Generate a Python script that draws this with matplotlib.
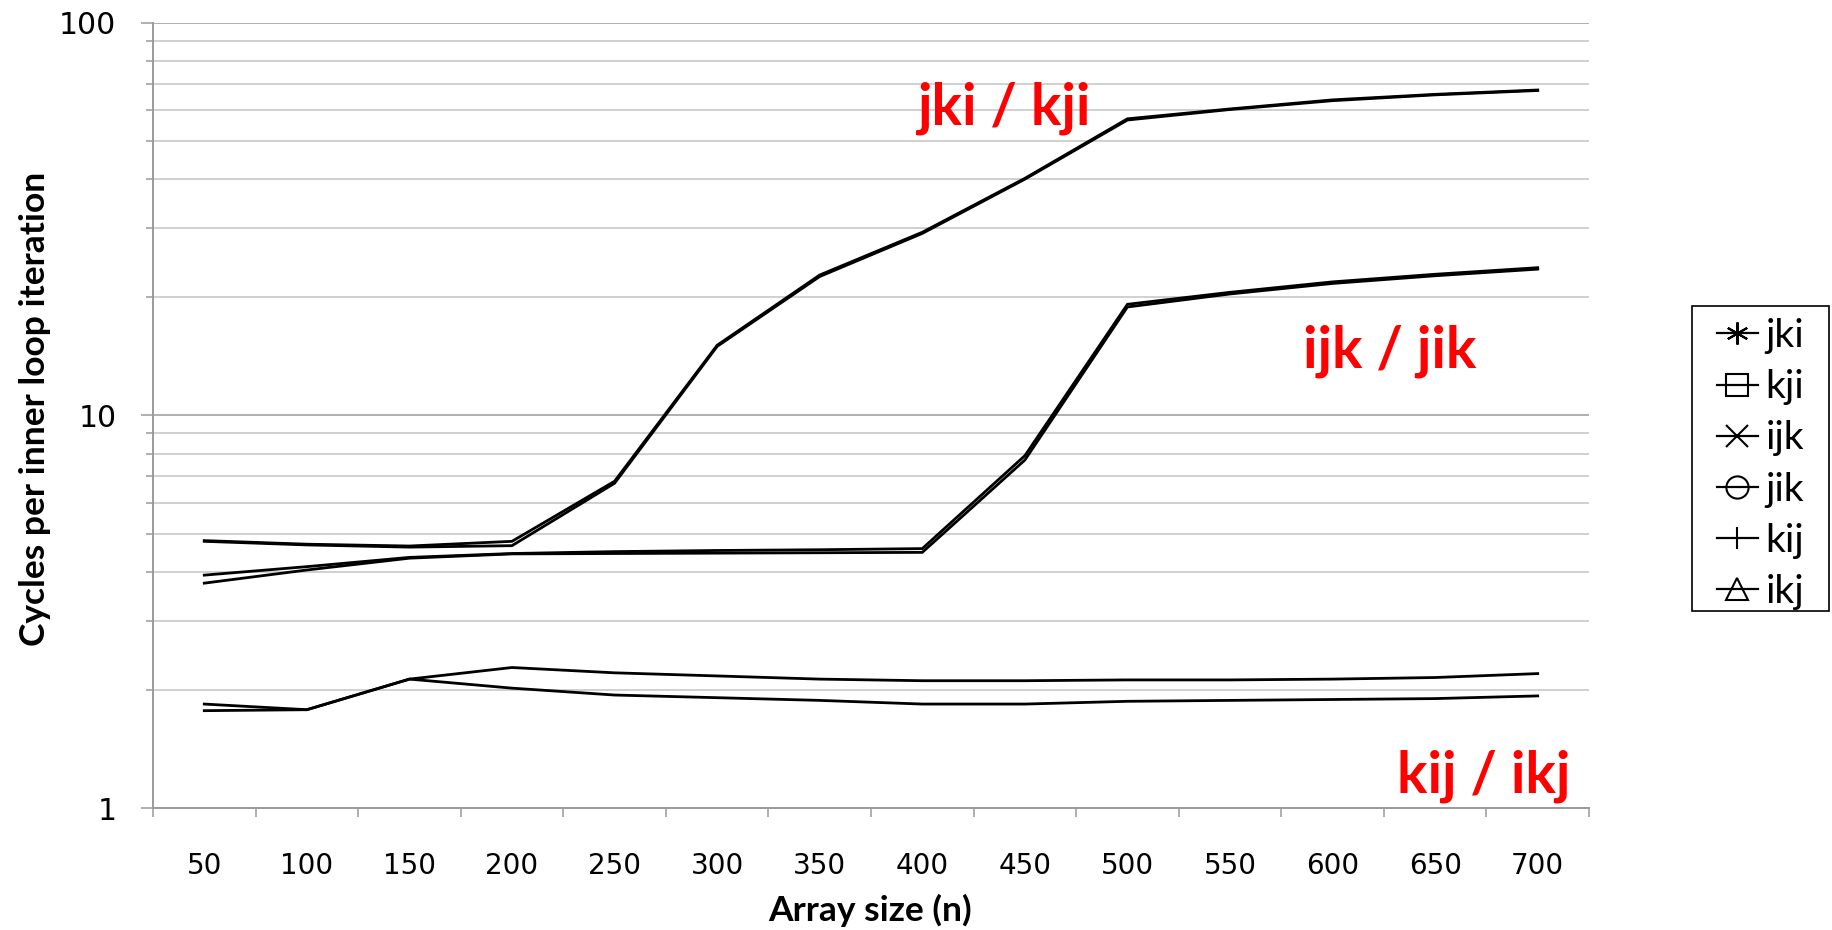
import matplotlib
matplotlib.use("Agg")
import matplotlib.pyplot as plt
from matplotlib.lines import Line2D
from matplotlib.patches import Rectangle
from matplotlib.ticker import LogLocator, NullFormatter

# Data
SIZES = [50, 100, 150, 200, 250, 300, 350, 400, 450, 500, 550, 600, 650, 700]
JKI = [4.80, 4.70, 4.65, 4.78, 6.80, 15.1, 22.8, 29.3, 40.2, 57.0, 60.4, 63.7, 65.8, 67.5]
KJI = [4.78, 4.68, 4.62, 4.66, 6.72, 15.0, 22.6, 29.1, 40.0, 56.6, 60.2, 63.4, 65.6, 67.3]
IJK = [3.92, 4.12, 4.35, 4.45, 4.50, 4.53, 4.55, 4.58, 7.90, 19.2, 20.6, 21.9, 22.9, 23.8]
JIK = [3.74, 4.04, 4.33, 4.44, 4.45, 4.46, 4.47, 4.48, 7.70, 18.9, 20.4, 21.7, 22.7, 23.6]
KIJ = [1.77, 1.78, 2.13, 2.28, 2.21, 2.17, 2.13, 2.11, 2.11, 2.12, 2.12, 2.13, 2.15, 2.20]
IKJ = [1.84, 1.78, 2.13, 2.02, 1.94, 1.91, 1.88, 1.84, 1.84, 1.87, 1.88, 1.89, 1.90, 1.93]

NAMES = ["jki", "kji", "ijk", "jik", "kij", "ikj"]
MARKERS = [(6, 2, 0), "s", "x", "o", "|", "^"]

# Style
W, H = 1832, 930
GRID_MAJOR = "#9a9a9a"
GRID_MINOR = "#c4c4c4"
TICK_FONT = "DejaVu Sans"
TEXT_FONT = "Lato"
LINEWIDTH = 2.0

fig = plt.figure(figsize=(W / 100, H / 100), dpi=100)
ax = fig.add_axes([153 / W, 1 - 808 / H, 1436 / W, 785 / H])

x = list(range(len(SIZES)))
for vals in [JKI, KJI, IJK, JIK, KIJ, IKJ]:
    ax.plot(x, vals, color="black", lw=LINEWIDTH, solid_joinstyle="miter", zorder=3)

ax.set_yscale("log")
ax.set_ylim(1, 100)
ax.set_xlim(-0.5, len(SIZES) - 0.5)

ax.set_yticks([1, 10, 100])
ax.set_yticklabels(["1", "10", "100"], fontfamily=TICK_FONT, fontsize=21.5)
ax.yaxis.set_minor_locator(LogLocator(base=10, subs=range(2, 10)))
ax.yaxis.set_minor_formatter(NullFormatter())
ax.tick_params(axis="y", which="major", length=8.4, width=1.1, color=GRID_MAJOR, pad=18)
ax.tick_params(axis="y", which="minor", length=4.8, width=1.1, color=GRID_MAJOR)

ax.set_xticks(x)
ax.set_xticklabels([str(s) for s in SIZES], fontfamily=TICK_FONT, fontsize=20)
ax.set_xticks([i - 0.5 for i in range(len(SIZES) + 1)], minor=True)
ax.tick_params(axis="x", which="major", length=0, pad=32)
ax.tick_params(axis="x", which="minor", length=6.5, width=1.1, color=GRID_MAJOR)

ax.grid(True, which="major", axis="y", color=GRID_MAJOR, lw=1.1, zorder=1)
ax.grid(True, which="minor", axis="y", color=GRID_MINOR, lw=1.1, zorder=1)
ax.set_axisbelow(True)

for side in ["top", "right"]:
    ax.spines[side].set_visible(False)
for side in ["left", "bottom"]:
    ax.spines[side].set_color(GRID_MAJOR)
    ax.spines[side].set_linewidth(1.4)

ax.set_ylabel("Cycles per inner loop iteration", fontfamily=TEXT_FONT,
              fontweight="bold", fontsize=25.5, va="center")
ax.yaxis.set_label_coords(-0.082, 0.508)
ax.set_xlabel("Array size (n)", fontfamily=TEXT_FONT, fontweight="bold",
              fontsize=25.5, va="center")
ax.xaxis.set_label_coords(0.4993, -0.131)

# group annotations
for label, xi, yv in [("jki / kji", 7.79, 60.7),
                      ("ijk / jik", 11.56, 14.6),
                      ("kij / ikj", 12.47, 1.206)]:
    ax.text(xi, yv, label, color="red", fontfamily=TEXT_FONT, fontweight="bold",
            fontsize=41, ha="center", va="center", zorder=4)

# legend: entries with markers, box drawn separately
handles = [Line2D([], [], color="black", lw=1.6, marker=m, markersize=16,
                  markerfacecolor="none", markeredgecolor="black", markeredgewidth=1.5)
           for m in MARKERS]
leg = fig.legend(handles, NAMES, loc="upper left",
                 bbox_to_anchor=(1717 / W, 1 - 318 / H), frameon=False,
                 borderpad=0, borderaxespad=0, handlelength=1.05,
                 handletextpad=0.2, labelspacing=0.39,
                 prop={"family": TEXT_FONT, "size": 28})
fig.add_artist(Rectangle((1692 / W, 1 - 611 / H), 137 / W, 305 / H,
                         transform=fig.transFigure, fill=False,
                         edgecolor="black", lw=1.2))

fig.savefig("out.png", dpi=100)
